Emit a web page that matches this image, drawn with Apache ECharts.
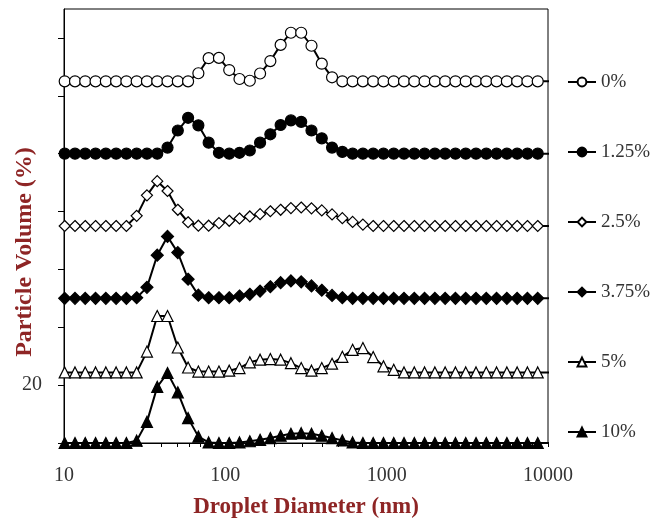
<!DOCTYPE html>
<html>
<head>
<meta charset="utf-8">
<script src="https://cdn.jsdelivr.net/npm/echarts@6/dist/echarts.min.js"></script>
<style>
  html, body { margin: 0; padding: 0; background: #ffffff; }
  #chart { width: 657px; height: 518px; }
</style>
</head>
<body>
<div id="chart"></div>
<script>
// Size classes (nm) of the droplet size distribution
const diameters = [8.721, 10.1, 11.7, 13.54, 15.69, 18.17, 21.04, 24.36, 28.21, 32.67,
  37.84, 43.82, 50.75, 58.77, 68.06, 78.82, 91.28, 105.7, 122.4, 141.8,
  164.2, 190.1, 220.2, 255.0, 295.3, 342.0, 396.1, 458.7, 531.2, 615.1,
  712.4, 825.0, 955.4, 1106, 1281, 1484, 1718, 1990, 2305, 2669,
  3091, 3580, 4145, 4801, 5560, 6439, 7456, 8635, 11580];

// Volume (%) per size class for each concentration
const vol0 = [0, 0, 0, 0, 0, 0, 0, 0, 0, 0,
  0, 0, 0, 0, 2.8, 8.0, 8.1, 3.9, 0.8, 0.2,
  2.7, 7.0, 12.6, 16.8, 16.8, 12.3, 6.1, 1.4, 0, 0,
  0, 0, 0, 0, 0, 0, 0, 0, 0, 0,
  0, 0, 0, 0, 0, 0, 0, 0, 0];
const vol125 = [0, 0, 0, 0, 0, 0, 0, 0, 0, 0,
  0, 2.1, 8.0, 12.4, 9.8, 3.8, 0.3, 0, 0.3, 1.1,
  3.8, 6.7, 9.9, 11.5, 11.0, 8.0, 5.3, 2.1, 0.6, 0,
  0, 0, 0, 0, 0, 0, 0, 0, 0, 0,
  0, 0, 0, 0, 0, 0, 0, 0, 0];
const vol25 = [0, 0, 0, 0, 0, 0, 0, 0, 3.5, 10.6,
  15.5, 12.1, 5.6, 1.3, 0.1, 0.1, 1.0, 1.8, 2.6, 3.3,
  4.1, 5.1, 5.6, 6.2, 6.4, 6.1, 5.4, 4.0, 2.7, 1.4,
  0.5, 0, 0, 0, 0, 0, 0, 0, 0, 0,
  0, 0, 0, 0, 0, 0, 0, 0, 0];
const vol375 = [0, 0, 0, 0, 0, 0, 0, 0, 0.2, 3.8,
  14.9, 21.4, 15.8, 6.6, 1.1, 0.2, 0.2, 0.2, 0.8, 1.4,
  2.5, 4.0, 5.4, 6.0, 5.7, 4.3, 2.8, 1.0, 0.2, 0,
  0, 0, 0, 0, 0, 0, 0, 0, 0, 0,
  0, 0, 0, 0, 0, 0, 0, 0, 0];
const vol5 = [0, 0, 0, 0, 0, 0, 0, 0, 0, 7.2,
  19.5, 19.5, 8.6, 1.7, 0.3, 0.3, 0.3, 0.6, 1.5, 3.5,
  4.4, 4.6, 4.4, 3.2, 1.5, 0.6, 1.5, 3.0, 5.4, 7.8,
  8.4, 5.3, 2.1, 0.9, 0, 0, 0, 0, 0, 0,
  0, 0, 0, 0, 0, 0, 0, 0, 0];
const vol10 = [0, 0, 0, 0, 0, 0, 0, 0, 0.8, 7.3,
  19.4, 24.2, 17.5, 8.6, 2.2, 0.2, 0, 0, 0.2, 0.6,
  1.1, 1.7, 2.5, 3.2, 3.4, 3.2, 2.5, 1.7, 0.9, 0.2,
  0, 0, 0, 0, 0, 0, 0, 0, 0, 0,
  0, 0, 0, 0, 0, 0, 0, 0, 0];

const seriesNames = ['0%', '1.25%', '2.5%', '3.75%', '5%', '10%'];
const seriesValues = [vol0, vol125, vol25, vol375, vol5, vol10];
// vertical stacking offset of each curve (% units)
const offsets = [125, 100, 75, 50, 24.4, 0];

const yTickValues = [0, 20, 40, 60, 80, 100, 120, 140];
const yLabelValues = [20];
const xTickValues = [10, 20, 30, 40, 50, 60, 70, 80, 90,
  100, 200, 300, 400, 500, 600, 700, 800, 900,
  1000, 2000, 3000, 4000, 5000, 6000, 7000, 8000, 9000, 10000];

// marker appearance per curve
const markerStyles = [
  { symbol: 'circle', size: 11, fill: '#ffffff' },
  { symbol: 'circle', size: 11, fill: '#000000' },
  { symbol: 'diamond', size: 11, fill: '#ffffff' },
  { symbol: 'diamond', size: 12, fill: '#000000' },
  { symbol: 'triangle', size: 11, fill: '#ffffff' },
  { symbol: 'triangle', size: 11, fill: '#000000' }
];

const serif = '"Liberation Serif", "Times New Roman", serif';
const titleRed = '#8E2525';

const chart = echarts.init(document.getElementById('chart'), null, { renderer: 'canvas' });

const series = seriesNames.map((name, k) => ({
  name: name,
  type: 'line',
  clip: true,
  symbol: markerStyles[k].symbol,
  symbolSize: markerStyles[k].size,
  showAllSymbol: true,
  lineStyle: { color: '#000000', width: 2 },
  itemStyle: { color: markerStyles[k].fill, borderColor: '#000000', borderWidth: 1.2 },
  emphasis: { disabled: true },
  data: diameters.map((d, i) => [d, seriesValues[k][i] + offsets[k]])
}));

chart.setOption({
  animation: false,
  backgroundColor: '#ffffff',
  grid: {
    left: 64, right: 109, top: 9, bottom: 75,
    outerBoundsMode: 'none',
    containLabel: false,
    show: true, borderColor: '#000000', borderWidth: 1, backgroundColor: 'transparent'
  },
  legend: {
    orient: 'vertical',
    left: 567,
    top: 72,
    itemWidth: 28,
    itemHeight: 11,
    itemGap: 50,
    padding: 0,
    selectedMode: false,
    textStyle: { fontFamily: serif, fontSize: 19, color: '#333333', lineHeight: 20 },
    data: seriesNames
  },
  xAxis: {
    type: 'log',
    logBase: 10,
    min: 10,
    max: 10000,
    name: 'Droplet Diameter (nm)',
    nameLocation: 'middle',
    nameGap: 53,
    nameTextStyle: { fontFamily: serif, fontSize: 23, fontWeight: 'bold', color: titleRed },
    axisLine: { show: true, lineStyle: { color: '#000000', width: 1 } },
    axisTick: { show: true, length: 4, customValues: xTickValues, lineStyle: { color: '#000000' } },
    axisLabel: {
      margin: 23,
      fontFamily: serif, fontSize: 20, color: '#333333',
      formatter: v => String(Math.round(v))
    },
    splitLine: { show: false },
    minorTick: { show: false }
  },
  yAxis: {
    type: 'value',
    min: 0,
    max: 150,
    axisLine: { show: true, lineStyle: { color: '#000000', width: 1 } },
    axisTick: { show: true, length: 6, customValues: yTickValues, lineStyle: { color: '#000000' } },
    axisLabel: {
      customValues: yLabelValues,
      margin: 22,
      fontFamily: serif, fontSize: 20, color: '#333333',
      padding: [6, 0, 0, 0]
    },
    splitLine: { show: false }
  },
  graphic: [{
    type: 'text',
    x: 25,
    y: 252,
    rotation: Math.PI / 2,
    style: {
      text: 'Particle Volume (%)',
      x: 0, y: 0,
      align: 'center',
      verticalAlign: 'middle',
      font: 'bold 24px ' + serif,
      fill: titleRed
    }
  }],
  series: series
});
</script>
</body>
</html>
